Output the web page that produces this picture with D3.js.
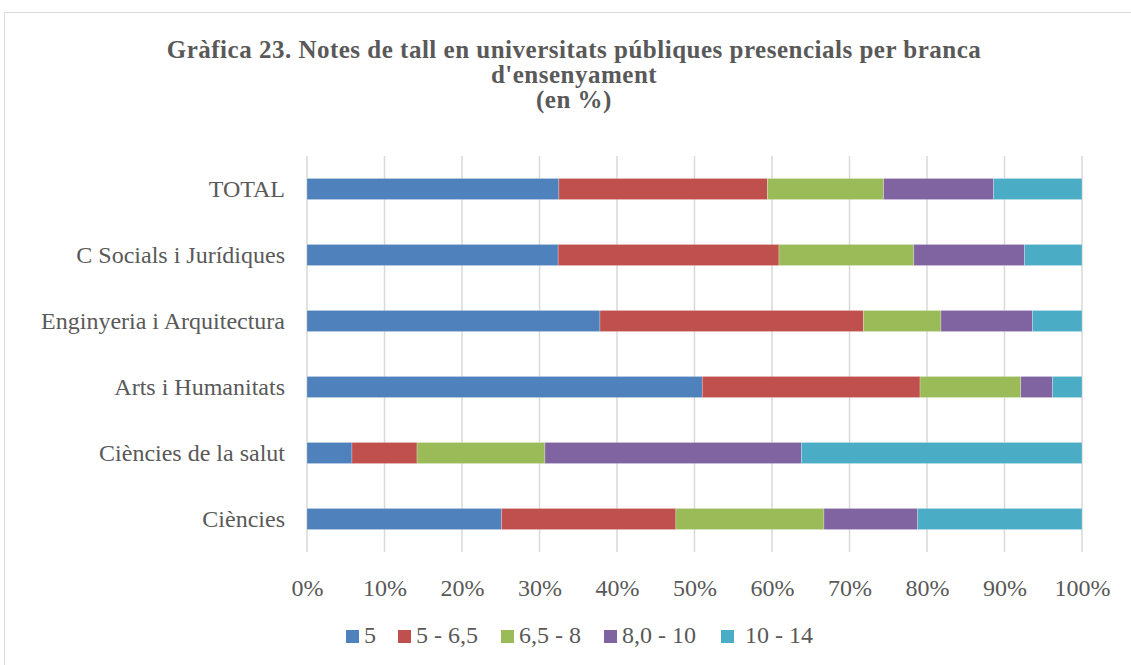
<html>
<head>
<meta charset="utf-8">
<title>Gràfica 23</title>
<script src="https://d3js.org/d3.v7.min.js"></script>
<style>
  body { margin: 0; background: #fff; }
  text { font-family: "Liberation Serif", "DejaVu Serif", serif; fill: #595959; }
  .grid line { stroke: #d9d9d9; stroke-width: 1.5px; }
</style>
</head>
<body>
<div id="chart"></div>
<script>
// categories, top to bottom
var categories = ["TOTAL", "C Socials i Jurídiques", "Enginyeria i Arquitectura", "Arts i Humanitats", "Ciències de la salut", "Ciències"];
var seriesNames = ["5", "5 - 6,5", "6,5 - 8", "8,0 - 10", "10 - 14"];
var colors = ["#4F81BD", "#C0504D", "#9BBB59", "#8064A2", "#4BACC6"];
// values in % per series, same order as categories
var s5      = [32.5, 32.4, 37.8, 51.0,  5.8, 25.1];
var s5_65   = [26.9, 28.5, 34.0, 28.1,  8.4, 22.5];
var s65_8   = [15.0, 17.4, 10.0, 13.0, 16.5, 19.1];
var s8_10   = [14.2, 14.3, 11.8,  4.1, 33.1, 12.1];
var s10_14  = [11.4,  7.4,  6.4,  3.8, 36.2, 21.2];
var xTicks = [0, 0.1, 0.2, 0.3, 0.4, 0.5, 0.6, 0.7, 0.8, 0.9, 1];
var titleLines = ["Gràfica 23. Notes de tall en universitats públiques presencials per branca", "d'ensenyament", "(en %)"];

var W = 1131, H = 665;
var plotL = 307, plotR = 1082, plotT = 156, plotB = 552;

var svg = d3.select("#chart").append("svg").attr("width", W).attr("height", H);

svg.append("rect").attr("x", 4.5).attr("y", 12.5).attr("width", W + 10).attr("height", H + 10)
   .attr("fill", "#fff").attr("stroke", "#d9d9d9").attr("stroke-width", 1);

// title
var title = svg.append("text").attr("text-anchor", "middle")
   .style("font-weight", "bold").style("font-size", "25px").style("letter-spacing", "0.5px");
titleLines.forEach(function (t, i) {
  title.append("tspan").attr("x", 574).attr("y", 58 + i * 25).text(t);
});

// build rows
var rows = categories.map(function (c, i) {
  var vals = [s5[i], s5_65[i], s65_8[i], s8_10[i], s10_14[i]];
  var tot = d3.sum(vals);
  var r = { cat: c };
  seriesNames.forEach(function (s, j) { r[s] = vals[j] / tot; });
  return r;
});
var stacked = d3.stack().keys(seriesNames)(rows);

var x = d3.scaleLinear().domain([0, 1]).range([plotL, plotR]);
var y = d3.scaleBand().domain(categories).range([plotT, plotB]).paddingInner(0.68).paddingOuter(0.34);

// grid
svg.append("g").attr("class", "grid").selectAll("line").data(xTicks).enter().append("line")
   .attr("x1", function (d) { return x(d); }).attr("x2", function (d) { return x(d); })
   .attr("y1", plotT).attr("y2", plotB);

// bars
svg.append("g").selectAll("g").data(stacked).enter().append("g")
   .attr("fill", function (d, i) { return colors[i]; })
   .selectAll("rect").data(function (d) { return d; }).enter().append("rect")
   .attr("x", function (d) { return x(d[0]); })
   .attr("width", function (d) { return x(d[1]) - x(d[0]); })
   .attr("y", function (d) { return y(d.data.cat); })
   .attr("height", y.bandwidth())
   .attr("stroke", "#fff").attr("stroke-opacity", 0.4).attr("stroke-width", 0.6);

// y axis labels
var yAxis = svg.append("g").attr("transform", "translate(" + plotL + ",0)")
   .call(d3.axisLeft(y).tickSize(0).tickPadding(22));
yAxis.select(".domain").remove();
yAxis.selectAll("text").style("font-size", "24px").attr("fill", "#595959")
   .style("font-family", "'Liberation Serif', serif");

// x axis labels
var xAxis = svg.append("g").attr("transform", "translate(0," + plotB + ")")
   .call(d3.axisBottom(x).tickValues(xTicks).tickSize(0).tickPadding(27).tickFormat(d3.format(".0%")));
xAxis.select(".domain").remove();
xAxis.selectAll("text").style("font-size", "24px").attr("fill", "#595959")
   .style("font-family", "'Liberation Serif', serif");

// legend
var legX = [346, 398, 501, 604, 721];
var leg = svg.append("g").selectAll("g").data(seriesNames).enter().append("g")
   .attr("transform", function (d, i) { return "translate(" + legX[i] + ",630)"; });
leg.append("rect").attr("width", 13).attr("height", 13)
   .attr("fill", function (d, i) { return colors[i]; });
leg.append("text").attr("x", function (d, i) { return i === 4 ? 24 : 18; }).attr("y", 13)
   .style("font-size", "24px").text(function (d) { return d; });
</script>
</body>
</html>
